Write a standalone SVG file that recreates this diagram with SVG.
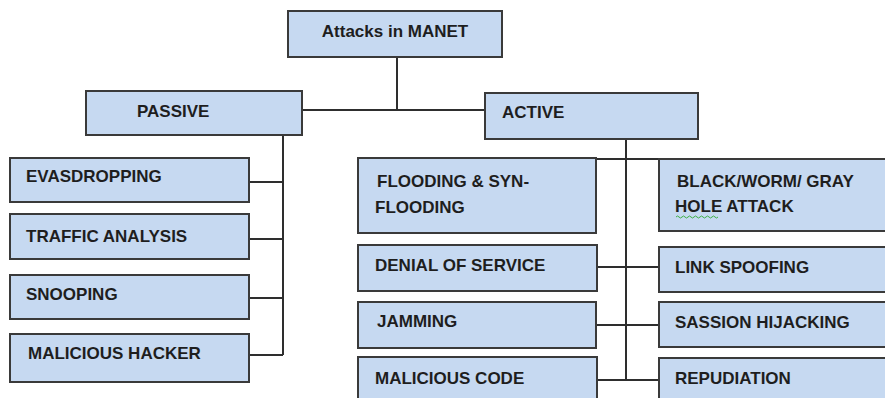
<svg xmlns="http://www.w3.org/2000/svg" width="885" height="398" viewBox="0 0 885 398">
<style>
.box{fill:#c6d9f1;stroke:#3a3a3a;stroke-width:2}
.t{font-family:"Liberation Sans",Arial,sans-serif;font-weight:bold;font-size:17px;fill:#1e1e1e}
.c{stroke:#2e2e2e;stroke-width:2;fill:none}
</style>
<rect width="885" height="398" fill="#ffffff"/>
<g id="connectors">
<path class="c" d="M397 57V110M302 110H485"/>
<path class="c" d="M283 136V355M249 182H283M249 239H283M249 298H283M249 355H283"/>
<path class="c" d="M626 139V380M596 159H659M597 267H659M596 325H659M597 380H659"/>
</g>
<g id="root"><rect class="box" x="288" y="11" width="214" height="46"/><text class="t" x="395" y="37" text-anchor="middle">Attacks in MANET</text></g>
<g id="passive"><rect class="box" x="86" y="91" width="216" height="44"/><text class="t" x="137" y="117">PASSIVE</text></g>
<g id="active"><rect class="box" x="485" y="93" width="213" height="46"/><text class="t" x="502" y="118">ACTIVE</text></g>
<g id="evasdropping"><rect class="box" x="10" y="158" width="239" height="44"/><text class="t" x="26" y="182">EVASDROPPING</text></g>
<g id="traffic"><rect class="box" x="10" y="214" width="239" height="45"/><text class="t" x="26" y="242">TRAFFIC ANALYSIS</text></g>
<g id="snooping"><rect class="box" x="10" y="275" width="239" height="44"/><text class="t" x="26" y="300">SNOOPING</text></g>
<g id="hacker"><rect class="box" x="10" y="334" width="239" height="48"/><text class="t" x="28" y="359">MALICIOUS HACKER</text></g>
<g id="flooding"><rect class="box" x="358" y="158" width="238" height="75"/><text class="t" x="377" y="187">FLOODING &amp; SYN-</text><text class="t" x="375" y="213">FLOODING</text></g>
<g id="dos"><rect class="box" x="358" y="245" width="239" height="46"/><text class="t" x="375" y="271">DENIAL OF SERVICE</text></g>
<g id="jamming"><rect class="box" x="358" y="302" width="238" height="46"/><text class="t" x="377" y="327">JAMMING</text></g>
<g id="malcode"><rect class="box" x="358" y="357" width="239" height="50"/><text class="t" x="375" y="384">MALICIOUS CODE</text></g>
<g id="blackhole"><rect class="box" x="659" y="159" width="227" height="72"/><text class="t" x="677" y="187">BLACK/WORM/ GRAY</text><text class="t" x="675" y="212">HOLE ATTACK</text><path d="M676 217q1.5-2 3 0t3 0t3 0t3 0t3 0t3 0t3 0t3 0t3 0t3 0t3 0t3 0t3 0t3 0" fill="none" stroke="#3cb043" stroke-width="1"/></g>
<g id="linkspoof"><rect class="box" x="659" y="247" width="227" height="45"/><text class="t" x="675" y="273">LINK SPOOFING</text></g>
<g id="hijack"><rect class="box" x="659" y="302" width="227" height="45"/><text class="t" x="675" y="328">SASSION HIJACKING</text></g>
<g id="repudiation"><rect class="box" x="659" y="358" width="227" height="50"/><text class="t" x="675" y="384">REPUDIATION</text></g>
</svg>
